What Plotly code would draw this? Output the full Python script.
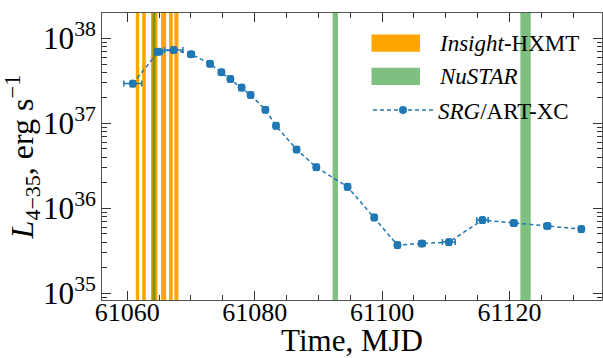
import plotly.graph_objects as go

# SRG/ART-XC light curve
mjd = [61060.88, 61064.9, 61067.3, 61070.03, 61073.0, 61074.78, 61076.19, 61077.96,
       61079.37, 61081.68, 61083.35, 61086.58, 61089.67, 61094.58, 61098.76, 61102.41,
       61106.24, 61110.47, 61115.74, 61120.66, 61125.92, 61131.25]
mjd_err = [1.4, 0.6, 1.45, 0.5, 0.4, 0.4, 0.4, 0.4, 0.4, 0.4, 0.4, 0.4, 0.4, 0.4, 0.4, 0.4,
           0.5, 1.0, 0.9, 0.5, 0.5, 0.4]
lum = [2.94e37, 7.0e37, 7.33e37, 6.52e37, 5.05e37, 4.0e37, 3.34e37, 2.64e37, 2.16e37,
       1.45e37, 9.4e36, 4.92e36, 3.05e36, 1.79e36, 7.8e35, 3.69e35, 3.85e35, 4.0e35,
       7.26e35, 6.7e35, 6.18e35, 5.69e35]
lum_rel_err = 0.08

# Observation windows (MJD start, end)
hxmt_start = [61061.35, 61062.35, 61063.73, 61065.33, 61066.58, 61067.41]
hxmt_end = [61061.88, 61062.92, 61064.75, 61066.11, 61067.15, 61068.04]
nustar_start = [61063.97, 61092.23, 61121.69]
nustar_end = [61064.44, 61093.07, 61123.32]

HXMT_COLOR = "#FFA500"
NUSTAR_COLOR = "rgba(0,128,0,0.5)"
font_family = "Liberation Serif"

fig = go.Figure()
for s, e in zip(hxmt_start, hxmt_end):
    fig.add_shape(type="rect", xref="x", yref="paper", x0=s, x1=e, y0=0, y1=1,
                  fillcolor=HXMT_COLOR, line=dict(width=0), layer="below")
for s, e in zip(nustar_start, nustar_end):
    fig.add_shape(type="rect", xref="x", yref="paper", x0=s, x1=e, y0=0, y1=1,
                  fillcolor=NUSTAR_COLOR, line=dict(width=0), layer="below")

# legend swatches for the observation windows (wide rectangles like the reference)
legend_rows = [("<i>Insight</i>-HXMT", HXMT_COLOR, 0.895),
               ("<i>NuSTAR</i>", NUSTAR_COLOR, 0.779)]
for label, color, yc in legend_rows:
    fig.add_shape(type="rect", xref="paper", yref="paper", x0=0.539, x1=0.636,
                  y0=yc - 0.030, y1=yc + 0.030, fillcolor=color, line=dict(width=0),
                  layer="above")
    fig.add_annotation(xref="paper", yref="paper", x=0.670, y=yc, xanchor="left",
                       yanchor="middle", text=label, showarrow=False,
                       font=dict(size=23, family=font_family, color="black"))

fig.add_trace(go.Scatter(
    x=mjd, y=lum, mode="lines+markers", name="<i>SRG</i>/ART-XC",
    line=dict(color="#1f77b4", width=1.5, dash="4px,3px"),
    marker=dict(color="#1f77b4", size=8),
    error_x=dict(type="data", array=mjd_err, color="#1f77b4", thickness=1.5, width=3),
    error_y=dict(type="percent", value=lum_rel_err * 100, color="#1f77b4", thickness=1.5, width=3),
))

fig.update_layout(
    width=603, height=358,
    margin=dict(l=102, r=1, t=13, b=58),
    plot_bgcolor="white", paper_bgcolor="white",
    font=dict(family=font_family, color="black", size=23),
    showlegend=True,
    legend=dict(x=0.532, y=0.662, xanchor="left", yanchor="middle",
                bgcolor="rgba(0,0,0,0)", font=dict(size=23, family=font_family),
                itemwidth=60, tracegroupgap=0),
)
fig.update_xaxes(
    range=[61056.05, 61134.5], dtick=20, tick0=61060, tickformat="d",
    ticks="inside", ticklen=9, tickwidth=1, tickcolor="#333",
    minor=dict(ticks="inside", ticklen=5, dtick=5, tick0=61060, tickcolor="#333"),
    showline=True, linecolor="#555", linewidth=1, mirror="allticks",
    showgrid=False, zeroline=False, ticklabelstandoff=-11,
    tickfont=dict(size=26, family=font_family, color="black"),
    title=dict(text="Time, MJD", font=dict(size=31, family=font_family), standoff=3),
)
fig.update_yaxes(
    type="log", range=[34.92, 38.30], dtick=1, exponentformat="power",
    ticks="inside", ticklen=9, tickwidth=1, tickcolor="#333",
    minor=dict(ticks="inside", ticklen=5, dtick="D1", tickcolor="#333"),
    showline=True, linecolor="#555", linewidth=1, mirror="allticks",
    showgrid=False, zeroline=False,
    tickfont=dict(size=25, family=font_family, color="black"),
    title=dict(text="<i>L</i><sub><span style=\"font-size:22px\">4\u221235</span></sub>, erg s<sup>\u22121</sup>",
               font=dict(size=32, family=font_family), standoff=6),
)

fig.write_html("out.html")
